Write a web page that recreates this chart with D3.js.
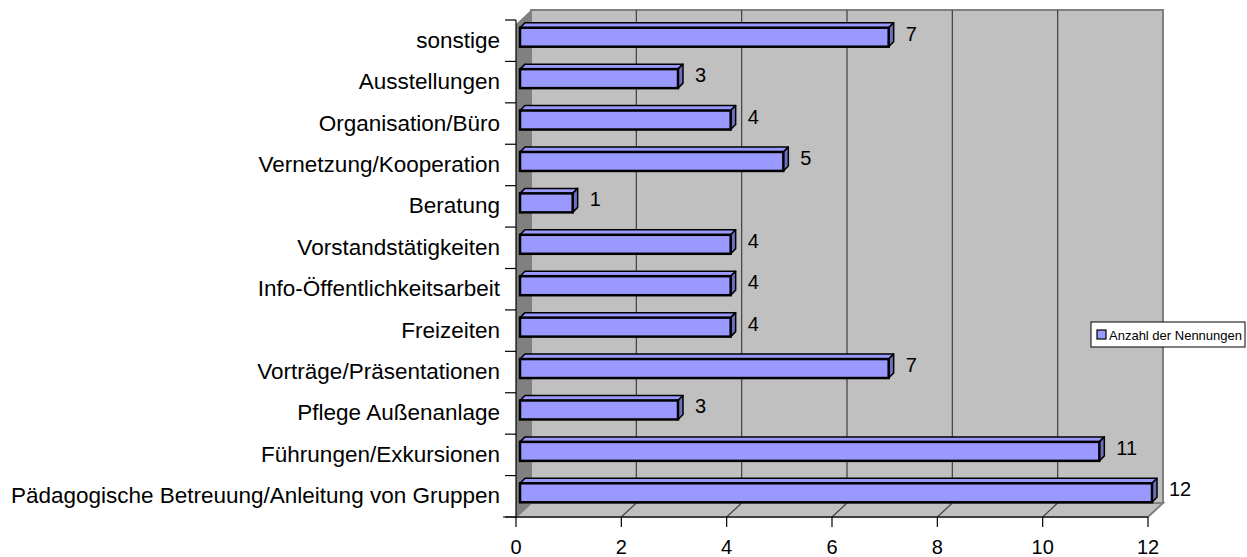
<!DOCTYPE html>
<html><head><meta charset="utf-8">
<script src="https://cdn.jsdelivr.net/npm/d3@7"></script>
<style>body{margin:0;background:#fff}svg{display:block;font-family:Arial,"Liberation Sans",sans-serif}</style>
</head><body><svg id="c" width="1247" height="557"></svg>
<script>
const categories = ["sonstige","Ausstellungen","Organisation/Büro","Vernetzung/Kooperation","Beratung","Vorstandstätigkeiten","Info-Öffentlichkeitsarbeit","Freizeiten","Vorträge/Präsentationen","Pflege Außenanlage","Führungen/Exkursionen","Pädagogische Betreuung/Anleitung von Gruppen"];
const values = [7,3,4,5,1,4,4,4,7,3,11,12];
const xTicks = [0,2,4,6,8,10,12];
const seriesName = "Anzahl der Nennungen";

const svg = d3.select("#c");
const x = d3.scaleLinear().domain([0,12]).range([516,1148]);
const y = d3.scaleBand().domain(categories).range([20,517]);
const DX = 15, DY = -14;   // wall depth
const bx = 4, by = -4;     // bar placement depth
const bd = 5;              // bar depth

const x0 = x(0), x1 = x(12), yTop = y.range()[0], yBot = y.range()[1];
// side wall
svg.append("path").attr("d",`M${x0},${yBot}L${x0+DX},${yBot+DY}L${x0+DX},${10}L${x0},${10-DY}Z`).attr("fill","#808080");
// back wall
svg.append("rect").attr("x",x0+DX).attr("y",10).attr("width",x1-x0).attr("height",yBot+DY-10)
  .attr("fill","#c0c0c0").attr("stroke","#808080").attr("stroke-width",2);
// floor
svg.append("path").attr("d",`M${x0},${yBot}L${x0+DX},${yBot+DY}L${x1+DX},${yBot+DY}L${x1},${yBot}Z`)
  .attr("fill","#c0c0c0").attr("stroke","#808080").attr("stroke-width",2);
// gridlines
const gv = xTicks.filter(t=>t>0 && t<12);
svg.selectAll(".g").data(gv).join("path")
  .attr("d",t=>`M${x(t)+DX},10L${x(t)+DX},${yBot+DY}L${x(t)},${yBot}`)
  .attr("fill","none").attr("stroke","#404040").attr("stroke-width",1.2);

// bars
const g = svg.append("g");
categories.forEach((c,i)=>{
  const v = values[i];
  const yc = y(c)+y.bandwidth()/2;
  const fx0 = x(0)+bx, fx1 = x(v)+bx, fy0 = yc-13, fy1 = yc+6;
  g.append("path").attr("d",`M${fx0},${fy0}L${fx0+bd},${fy0-bd}L${fx1+bd},${fy0-bd}L${fx1},${fy0}Z`)
    .attr("fill","#9999ff").attr("stroke","#000").attr("stroke-width",1.5).attr("stroke-linejoin","round");
  g.append("path").attr("d",`M${fx1},${fy0}L${fx1+bd},${fy0-bd}L${fx1+bd},${fy1-bd}L${fx1},${fy1}Z`)
    .attr("fill","#6f6fc0").attr("stroke","#000").attr("stroke-width",1.5).attr("stroke-linejoin","round");
  g.append("rect").attr("x",fx0).attr("y",fy0).attr("width",fx1-fx0).attr("height",fy1-fy0)
    .attr("fill","#9999ff").attr("stroke","#000").attr("stroke-width",2.5);
  g.append("text").attr("x",fx1+bd+12).attr("y",yc).attr("font-size",20).attr("fill","#000").text(v);
});

// y axis
svg.append("line").attr("x1",x0).attr("x2",x0).attr("y1",yTop).attr("y2",yBot).attr("stroke","#000").attr("stroke-width",1.2);
const bounds = categories.map(c=>y(c)).concat([yBot]);
svg.selectAll(".yt").data(bounds).join("line")
  .attr("x1",x0-11).attr("x2",x0).attr("y1",d=>d).attr("y2",d=>d).attr("stroke","#000").attr("stroke-width",1.2);
svg.selectAll(".yl").data(categories).join("text")
  .attr("x",x0-16).attr("y",c=>y(c)+y.bandwidth()/2+7).attr("text-anchor","end")
  .attr("font-size",22.5).attr("fill","#000").text(c=>c);
// x axis
svg.append("line").attr("x1",x0-13).attr("x2",x1).attr("y1",yBot).attr("y2",yBot).attr("stroke","#000").attr("stroke-width",1.2);
svg.selectAll(".xt").data(xTicks).join("line")
  .attr("x1",t=>x(t)).attr("x2",t=>x(t)).attr("y1",yBot).attr("y2",yBot+10).attr("stroke","#000").attr("stroke-width",1.2);
svg.selectAll(".xl").data(xTicks).join("text")
  .attr("x",t=>x(t)).attr("y",yBot+37).attr("text-anchor","middle")
  .attr("font-size",20).attr("fill","#000").text(t=>t);

// legend
const lg = svg.append("g").attr("transform","translate(1091,322)");
lg.append("rect").attr("width",154).attr("height",25).attr("fill","#fff").attr("stroke","#000").attr("stroke-width",1);
lg.append("rect").attr("x",6).attr("y",8).attr("width",9).attr("height",9).attr("fill","#9999ff").attr("stroke","#000").attr("stroke-width",1.2);
lg.append("text").attr("x",18).attr("y",17.5).attr("font-size",13).attr("fill","#000").text(seriesName);
</script></body></html>
